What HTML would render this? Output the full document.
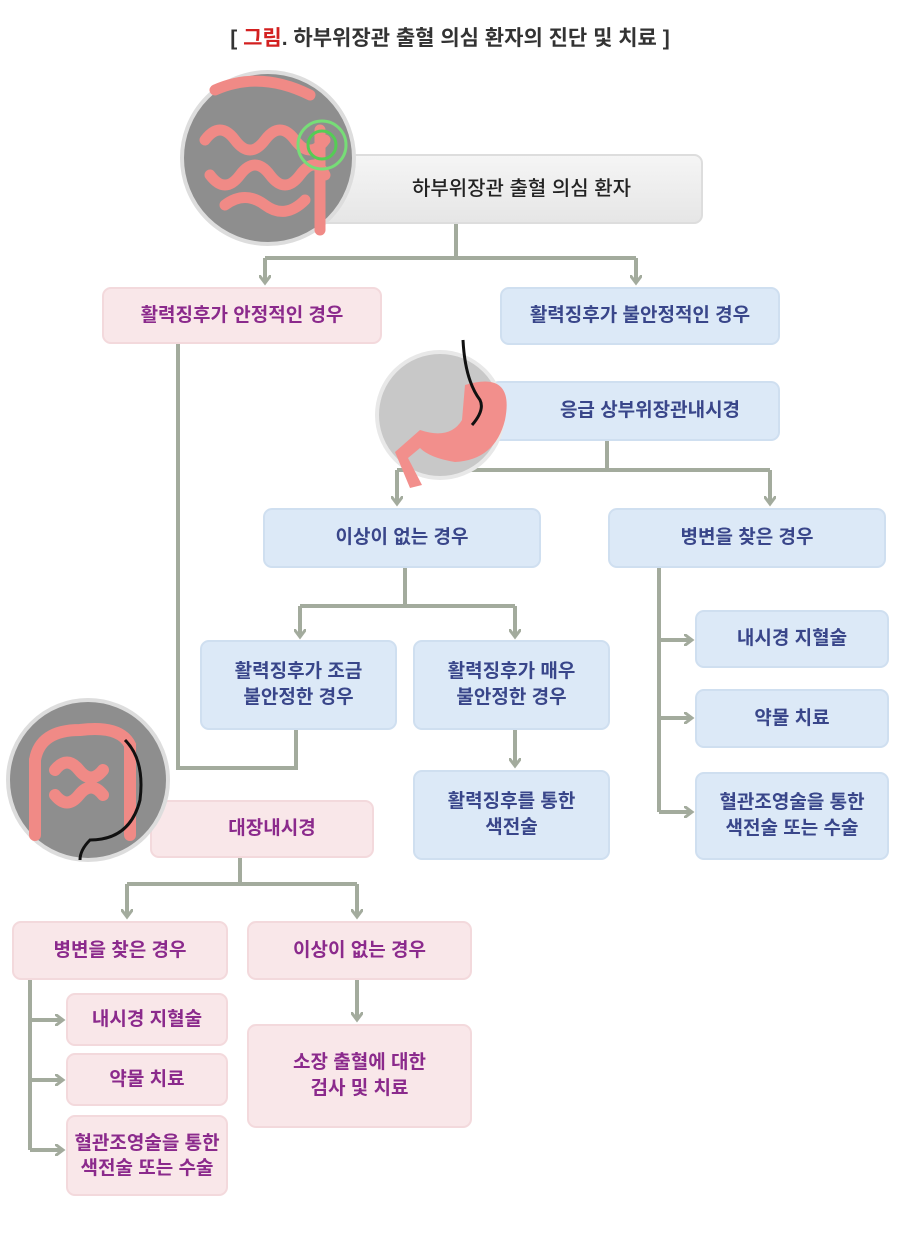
<!DOCTYPE html>
<html><head><meta charset="utf-8"><style>
body{margin:0;width:900px;height:1234px;background:#fff;position:relative;overflow:hidden;font-family:"Liberation Sans","Noto Sans CJK KR",sans-serif}
.b{position:absolute;box-sizing:border-box;border-radius:9px;display:flex;align-items:center;justify-content:center;text-align:center;font-size:19px;line-height:26px;font-weight:bold}
.p{background:#f9e7e9;border:2px solid #f3d9dc;color:#8b2a8c}
.u{background:#dce9f7;border:2px solid #cfdff0;color:#39468a}
.t{position:absolute;top:22px;left:0;width:900px;text-align:center;font-size:21px;font-weight:bold;color:#333}
</style></head><body>
<div class="t">[ <span style="color:#d32020">그림</span>. 하부위장관 출혈 의심 환자의 진단 및 치료 ]</div>
<svg width="900" height="1234" style="position:absolute;left:0;top:0">
<defs><marker id="a" markerWidth="12" markerHeight="12" refX="7" refY="6" orient="auto" markerUnits="userSpaceOnUse"><path d="M0,0 L8,6 L0,12" fill="none" stroke="#a3ab9d" stroke-width="3"/></marker></defs>
<g stroke="#a3ab9d" stroke-width="4" fill="none">
<path d="M456 224V258M265 258H636"/>
<path d="M265 258V282" marker-end="url(#a)"/>
<path d="M636 258V282" marker-end="url(#a)"/>
<path d="M178 344V768H296V730"/>
<path d="M607 441V470M397 470H770"/>
<path d="M397 470V503" marker-end="url(#a)"/>
<path d="M770 470V503" marker-end="url(#a)"/>
<path d="M405 568V606M300 606H515"/>
<path d="M300 606V636" marker-end="url(#a)"/>
<path d="M515 606V636" marker-end="url(#a)"/>
<path d="M515 730V765" marker-end="url(#a)"/>
<path d="M659 568V812"/>
<path d="M659 640H691" marker-end="url(#a)"/>
<path d="M659 718H691" marker-end="url(#a)"/>
<path d="M659 812H691" marker-end="url(#a)"/>
<path d="M240 858V884M127 884H357"/>
<path d="M127 884V916" marker-end="url(#a)"/>
<path d="M357 884V916" marker-end="url(#a)"/>
<path d="M357 980V1019" marker-end="url(#a)"/>
<path d="M30 980V1150"/>
<path d="M30 1020H62" marker-end="url(#a)"/>
<path d="M30 1080H62" marker-end="url(#a)"/>
<path d="M30 1150H62" marker-end="url(#a)"/>
</g>
</svg>
<div class="b" style="left:290px;top:154px;width:413px;height:70px;background:linear-gradient(#f5f5f5,#e6e6e6);border:2px solid #ddd;color:#222;font-size:20px;font-weight:500;padding-left:50px">하부위장관 출혈 의심 환자</div>
<div class="b p" style="left:102px;top:287px;width:280px;height:57px">활력징후가 안정적인 경우</div>
<div class="b u" style="left:500px;top:287px;width:280px;height:58px">활력징후가 불안정적인 경우</div>
<div class="b u" style="left:490px;top:381px;width:290px;height:60px;padding-left:30px">응급 상부위장관내시경</div>
<div class="b u" style="left:263px;top:508px;width:278px;height:60px">이상이 없는 경우</div>
<div class="b u" style="left:608px;top:508px;width:278px;height:60px">병변을 찾은 경우</div>
<div class="b u" style="left:200px;top:640px;width:197px;height:90px">활력징후가 조금<br>불안정한 경우</div>
<div class="b u" style="left:413px;top:640px;width:197px;height:90px">활력징후가 매우<br>불안정한 경우</div>
<div class="b u" style="left:413px;top:770px;width:197px;height:90px">활력징후를 통한<br>색전술</div>
<div class="b u" style="left:695px;top:610px;width:194px;height:58px">내시경 지혈술</div>
<div class="b u" style="left:695px;top:689px;width:194px;height:59px">약물 치료</div>
<div class="b u" style="left:695px;top:772px;width:194px;height:88px">혈관조영술을 통한<br>색전술 또는 수술</div>
<div class="b p" style="left:150px;top:800px;width:224px;height:58px;padding-left:20px">대장내시경</div>
<div class="b p" style="left:12px;top:921px;width:216px;height:59px">병변을 찾은 경우</div>
<div class="b p" style="left:247px;top:921px;width:225px;height:59px">이상이 없는 경우</div>
<div class="b p" style="left:66px;top:993px;width:162px;height:53px">내시경 지혈술</div>
<div class="b p" style="left:66px;top:1053px;width:162px;height:53px">약물 치료</div>
<div class="b p" style="left:66px;top:1115px;width:162px;height:81px;line-height:25px">혈관조영술을 통한<br>색전술 또는 수술</div>
<div class="b p" style="left:247px;top:1024px;width:225px;height:104px">소장 출혈에 대한<br>검사 및 치료</div>
<svg width="900" height="1234" style="position:absolute;left:0;top:0">
<circle cx="268" cy="158" r="86" fill="#8e8e8e" stroke="#ddd" stroke-width="4"/>
<g fill="none" stroke="#f08a86" stroke-width="11" stroke-linecap="round">
<path d="M215 90Q260 70 310 95"/>
<path d="M205 140q15-20 30 0t30 0t30 0t30 0"/>
<path d="M210 175q15 20 30 0t30 0t30 0t25 0"/>
<path d="M225 205q20-15 40 0t40-5"/>
<path d="M320 130V230"/>
</g>
<circle cx="322" cy="145" r="14" fill="none" stroke="#5c5" stroke-width="3"/>
<circle cx="322" cy="145" r="24" fill="none" stroke="#7d7" stroke-width="3"/>
<circle cx="440" cy="415" r="63" fill="#c8c8c8" stroke="#e8e8e8" stroke-width="4"/>
<path d="M465 385Q515 370 505 420Q495 460 455 462Q430 458 420 448L408 458L422 485L410 488L395 452L420 430Q450 440 462 420Z" fill="#f28f8c"/>
<path d="M463 340Q465 380 480 400Q485 410 472 425" fill="none" stroke="#111" stroke-width="3"/>
<circle cx="88" cy="780" r="80" fill="#8e8e8e" stroke="#ddd" stroke-width="4"/>
<g fill="none" stroke="#f08a86" stroke-width="12" stroke-linecap="round">
<path d="M35 760Q40 730 80 730Q120 725 130 745V835"/>
<path d="M35 760V835"/>
<path d="M55 770q12-15 24 0t24 0"/>
<path d="M55 795q12 15 24 0t24 0"/>
</g>
<path d="M125 740Q145 760 140 800Q130 840 90 840Q80 850 80 860" fill="none" stroke="#111" stroke-width="3"/>
</svg>
</body></html>
